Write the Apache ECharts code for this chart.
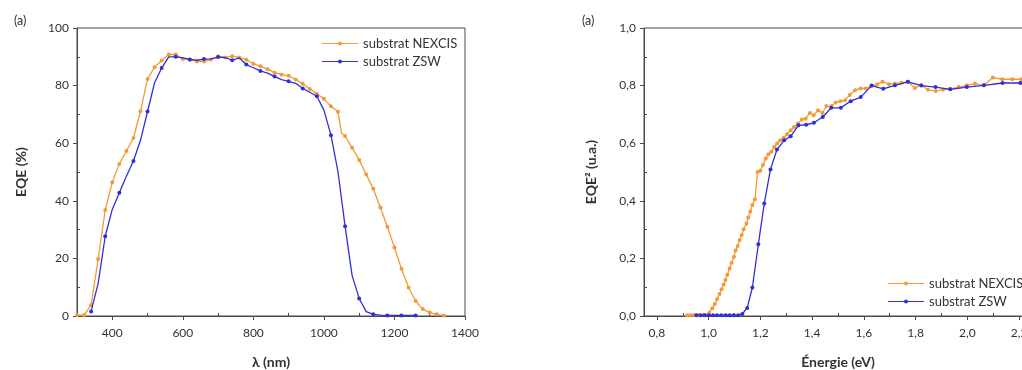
<!DOCTYPE html>
<html>
<head>
<meta charset="utf-8">
<script src="https://cdn.jsdelivr.net/npm/echarts@6/dist/echarts.min.js"></script>
<style>
html,body{margin:0;padding:0;background:#fff;}
#c{width:1022px;height:370px;}
</style>
</head>
<body>
<div id="c"></div>
<script>
// ---- Left chart: EQE (%) vs wavelength (nm) ----
var lambdaNexcis = [300,320,340,360,380,400,420,440,460,480,500,520,540,560,580,600,620,640,660,680,700,720,740,760,780,800,820,840,860,880,900,920,940,960,980,1000,1020,1040,1050,1060,1080,1100,1120,1140,1160,1180,1200,1220,1240,1260,1280,1300,1320,1340];
var eqeNexcis    = [0.3,0.3,3.8,19.8,36.8,46.4,52.8,57.3,61.8,71.1,82.3,86.4,88.7,90.8,90.8,89.2,89.0,88.4,88.4,89.1,90.2,89.8,90.2,89.8,89.0,87.6,86.7,85.7,84.5,83.8,83.4,82.1,80.6,78.8,77.2,75.4,72.8,70.9,63.5,62.5,58.4,54.2,49.1,44.2,37.7,31.0,23.8,16.4,9.9,5.2,2.4,1.2,0.6,0.2];
var lambdaZsw = [340,360,380,400,420,440,460,480,500,520,540,560,580,600,620,640,660,680,700,720,740,760,780,800,820,840,860,880,900,920,940,960,980,1000,1020,1040,1060,1080,1100,1120,1140,1160,1180,1200,1220,1240,1260];
var eqeZsw    = [1.6,11.3,27.7,37.0,42.8,48.5,53.8,61.0,71.0,81.0,86.1,90.0,90.0,89.6,89.1,88.8,89.2,89.3,89.9,89.7,88.8,89.6,87.3,86.2,85.1,84.3,83.2,82.1,81.5,80.8,79.0,77.7,76.3,71.5,62.8,50.0,31.2,14.0,6.1,1.5,0.6,0.3,0.2,0.2,0.2,0.2,0.2];

// ---- Right chart: EQE^2 (u.a.) vs energy (eV) ----
var energyNexcis = [0.917,0.930,0.943,0.956,0.968,0.981,1.002,1.014,1.024,1.033,1.042,1.050,1.058,1.065,1.072,1.081,1.089,1.098,1.104,1.112,1.120,1.128,1.135,1.146,1.153,1.161,1.169,1.179,1.189,1.200,1.210,1.221,1.231,1.243,1.253,1.265,1.277,1.290,1.303,1.317,1.330,1.345,1.360,1.375,1.391,1.406,1.423,1.440,1.455,1.475,1.491,1.509,1.527,1.545,1.566,1.587,1.607,1.628,1.651,1.672,1.697,1.720,1.746,1.771,1.797,1.822,1.848,1.878,1.906,1.934,1.966,1.998,2.030,2.064,2.099,2.135,2.174,2.208];
var eqe2Nexcis   = [0.003,0.003,0.003,0.003,0.003,0.004,0.011,0.027,0.042,0.059,0.076,0.093,0.109,0.125,0.143,0.165,0.185,0.206,0.227,0.243,0.264,0.281,0.301,0.321,0.342,0.363,0.385,0.405,0.500,0.504,0.524,0.547,0.562,0.570,0.587,0.599,0.610,0.619,0.631,0.645,0.656,0.668,0.682,0.685,0.705,0.697,0.714,0.705,0.729,0.729,0.741,0.746,0.749,0.767,0.784,0.790,0.790,0.798,0.805,0.813,0.805,0.807,0.810,0.813,0.792,0.801,0.786,0.781,0.786,0.789,0.795,0.801,0.807,0.801,0.828,0.822,0.822,0.822];
var energyZsw = [0.952,0.968,0.984,1.001,1.017,1.032,1.049,1.066,1.081,1.097,1.114,1.130,1.149,1.169,1.192,1.215,1.239,1.264,1.292,1.317,1.347,1.377,1.407,1.441,1.474,1.511,1.549,1.588,1.630,1.675,1.720,1.770,1.822,1.877,1.934,1.998,2.064,2.136,2.205];
var eqe2Zsw   = [0.003,0.003,0.003,0.003,0.003,0.003,0.003,0.003,0.003,0.003,0.003,0.007,0.028,0.099,0.249,0.391,0.509,0.578,0.610,0.624,0.662,0.664,0.671,0.691,0.723,0.723,0.746,0.760,0.800,0.789,0.801,0.813,0.800,0.795,0.787,0.795,0.801,0.809,0.809];

// ---- Tick labels ----
var leftXTicks  = [300,400,500,600,700,800,900,1000,1100,1200,1300,1400];
var leftYTicks  = [0,10,20,30,40,50,60,70,80,90,100];
var rightXTicks = [0.75,0.80,0.85,0.90,0.95,1.00,1.05,1.10,1.15,1.20,1.25,1.30,1.35,1.40,1.45,1.50,1.55,1.60,1.65,1.70,1.75,1.80,1.85,1.90,1.95,2.00,2.05,2.10,2.15,2.20,2.25];
var rightYTicks = [0,0.1,0.2,0.3,0.4,0.5,0.6,0.7,0.8,0.9,1.0];

var seriesNames = ['substrat NEXCIS','substrat ZSW'];

function zip(a,b){ var r=[]; for(var i=0;i<a.length;i++) r.push([a[i],b[i]]); return r; }

var ORANGE = '#F39A38';
var BLUE = '#2F2FD8';
var AXIS = '#4a4a4a';
var TXT = '#333';
var FONT = 'Lato, "Open Sans", sans-serif';
var LEG_ICON = 'path://M0,1.4H36V2.6H0Z M16,2 A2,2 0 1,1 20,2 A2,2 0 1,1 16,2Z';

function fmtComma(v, d){ return Number(v).toFixed(d).replace('.', ','); }

var option = {
  animation: false,
  backgroundColor: '#fff',
  textStyle: {fontFamily: FONT},
  title: [
    {text:'(a)', left: 9, top: 9, textStyle:{fontSize:12.5, fontWeight:'normal', color:TXT, fontFamily:FONT}},
    {text:'(a)', left: 577, top: 9, textStyle:{fontSize:12.5, fontWeight:'normal', color:TXT, fontFamily:FONT}}
  ],
  grid: [
    {left: 77, top: 28, width: 388, height: 288, show: true, borderColor: AXIS, borderWidth: 1, containLabel: false, outerBoundsMode: 'none'},
    {left: 644, top: 28, width: 388, height: 288, show: true, borderColor: AXIS, borderWidth: 1, containLabel: false, outerBoundsMode: 'none'}
  ],
  legend: [
    {orient:'vertical', left: 317, top: 32, itemWidth: 36, itemHeight: 4, itemGap: 5, icon: LEG_ICON,
     data: seriesNames, textStyle:{fontSize:13, color:TXT, fontFamily:FONT}},
    {orient:'vertical', left: 883, top: 272, itemWidth: 36, itemHeight: 4, itemGap: 5, icon: LEG_ICON,
     data: seriesNames, textStyle:{fontSize:13, color:TXT, fontFamily:FONT}}
  ],
  xAxis: [
    {type:'value', gridIndex:0, min:300, max:1400, position:'bottom',
     axisLine:{show:true, lineStyle:{color:AXIS, width:1}}, axisTick:{show:false}, axisLabel:{show:false}, splitLine:{show:false},
     name:'λ (nm)', nameLocation:'middle', nameGap:39,
     nameTextStyle:{fontSize:14, fontWeight:'bold', color:TXT, fontFamily:FONT}},
    {type:'category', gridIndex:0, data: leftXTicks, boundaryGap:false, position:'bottom',
     axisLine:{show:false},
     axisTick:{show:true, inside:false, length:4, lineStyle:{color:AXIS}, interval:function(i,v){return Number(v)%200===0;}},
     axisLabel:{show:true, margin:11, fontSize:12, color:TXT, fontFamily:FONT, interval:function(i,v){return Number(v)%200===0;}},
     splitLine:{show:false}},
    {type:'category', gridIndex:0, data: leftXTicks, boundaryGap:false, position:'bottom',
     axisLine:{show:false},
     axisTick:{show:true, inside:true, length:3, lineStyle:{color:AXIS}, interval:function(i,v){return Number(v)%200===100;}},
     axisLabel:{show:false}, splitLine:{show:false}},
    {type:'value', gridIndex:1, min:0.75, max:2.25, position:'bottom',
     axisLine:{show:true, lineStyle:{color:AXIS, width:1}}, axisTick:{show:false}, axisLabel:{show:false}, splitLine:{show:false},
     name:'Énergie (eV)', nameLocation:'middle', nameGap:39,
     nameTextStyle:{fontSize:14, fontWeight:'bold', color:TXT, fontFamily:FONT}},
    {type:'category', gridIndex:1, data: rightXTicks, boundaryGap:false, position:'bottom',
     axisLine:{show:false},
     axisTick:{show:true, inside:false, length:4, lineStyle:{color:AXIS}, interval:function(i,v){return Math.round(Number(v)*100)%20===0;}},
     axisLabel:{show:true, margin:11, fontSize:12, color:TXT, fontFamily:FONT,
       interval:function(i,v){return Math.round(Number(v)*100)%20===0;},
       formatter:function(v){return fmtComma(v,1);}},
     splitLine:{show:false}},
    {type:'category', gridIndex:1, data: rightXTicks, boundaryGap:false, position:'bottom',
     axisLine:{show:false},
     axisTick:{show:true, inside:true, length:3, lineStyle:{color:AXIS}, interval:function(i,v){return Math.round(Number(v)*100)%20===10;}},
     axisLabel:{show:false}, splitLine:{show:false}}
  ],
  yAxis: [
    {type:'value', gridIndex:0, min:0, max:100, interval:20, position:'left',
     axisLine:{show:true, lineStyle:{color:AXIS, width:1}},
     axisTick:{show:true, inside:false, length:4, lineStyle:{color:AXIS}},
     axisLabel:{show:true, margin:8, fontSize:12, color:TXT, fontFamily:FONT},
     splitLine:{show:false},
     name:'EQE (%)', nameLocation:'middle', nameGap:49,
     nameTextStyle:{fontSize:14, fontWeight:'bold', color:TXT, fontFamily:FONT}},
    {type:'category', gridIndex:0, data:leftYTicks, boundaryGap:false, position:'left',
     axisLine:{show:false},
     axisTick:{show:true, inside:true, length:3, lineStyle:{color:AXIS}, interval:function(i,v){return Number(v)%20===10;}},
     axisLabel:{show:false}, splitLine:{show:false}},
    {type:'value', gridIndex:1, min:0, max:1, interval:0.2, position:'left',
     axisLine:{show:true, lineStyle:{color:AXIS, width:1}},
     axisTick:{show:true, inside:false, length:4, lineStyle:{color:AXIS}},
     axisLabel:{show:true, margin:8, fontSize:12, color:TXT, fontFamily:FONT, formatter:function(v){return fmtComma(v,1);}},
     splitLine:{show:false},
     name:'EQE² (u.a.)', nameLocation:'middle', nameGap:46,
     nameTextStyle:{fontSize:14, fontWeight:'bold', color:TXT, fontFamily:FONT}},
    {type:'category', gridIndex:1, data:rightYTicks, boundaryGap:false, position:'left',
     axisLine:{show:false},
     axisTick:{show:true, inside:true, length:3, lineStyle:{color:AXIS}, interval:function(i,v){return Math.round(Number(v)*10)%2===1;}},
     axisLabel:{show:false}, splitLine:{show:false}}
  ],
  series: [
    {name: seriesNames[0], type:'line', xAxisIndex:3, yAxisIndex:2, data: zip(energyNexcis, eqe2Nexcis),
     symbol:'circle', symbolSize:4, showAllSymbol:true, color:ORANGE,
     lineStyle:{color:ORANGE, width:1.3}, itemStyle:{color:ORANGE}, z:2},
    {name: seriesNames[1], type:'line', xAxisIndex:3, yAxisIndex:2, data: zip(energyZsw, eqe2Zsw),
     symbol:'circle', symbolSize:4, showAllSymbol:true, color:BLUE,
     lineStyle:{color:BLUE, width:1.3}, itemStyle:{color:BLUE}, z:3},
    {name: seriesNames[0], type:'line', xAxisIndex:0, yAxisIndex:0, data: zip(lambdaNexcis, eqeNexcis),
     symbol:'circle', showAllSymbol:true, color:ORANGE,
     symbolSize:function(v){ return (v[0] % 20 === 0) ? 4 : 0; },
     lineStyle:{color:ORANGE, width:1.3}, itemStyle:{color:ORANGE}, z:2},
    {name: seriesNames[1], type:'line', xAxisIndex:0, yAxisIndex:0, data: zip(lambdaZsw, eqeZsw),
     symbol:'circle', showAllSymbol:true, color:BLUE,
     symbolSize:function(v){ return ((v[0]-340) % 40 === 0) ? 4 : 0; },
     lineStyle:{color:BLUE, width:1.3}, itemStyle:{color:BLUE}, z:3}
  ]
};

var chart = echarts.init(document.getElementById('c'), null, {renderer:'canvas'});
chart.setOption(option);
</script>
</body>
</html>
